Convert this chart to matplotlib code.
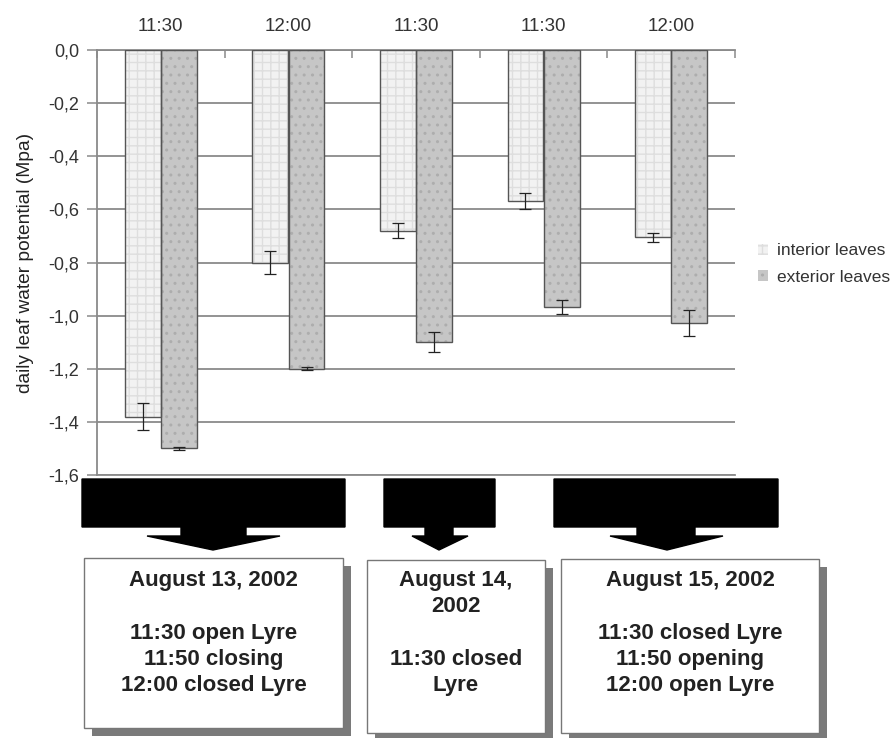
import matplotlib.pyplot as plt
from matplotlib.patches import Polygon, Rectangle
import numpy as np

plt.rcParams['font.family'] = ['Liberation Sans', 'DejaVu Sans']

# data
times = ["11:30", "12:00", "11:30", "11:30", "12:00"]
interior = [-1.38, -0.80, -0.68, -0.57, -0.705]
interior_err = [0.05, 0.045, 0.028, 0.03, 0.016]
exterior = [-1.50, -1.20, -1.10, -0.967, -1.028]
exterior_err = [0.006, 0.006, 0.037, 0.025, 0.048]
yticks = [0.0, -0.2, -0.4, -0.6, -0.8, -1.0, -1.2, -1.4, -1.6]
box_texts = ["August 13, 2002\n\n11:30 open Lyre\n11:50 closing\n12:00 closed Lyre",
             "August 14,\n2002\n\n11:30 closed\nLyre",
             "August 15, 2002\n\n11:30 closed Lyre\n11:50 opening\n12:00 open Lyre"]

W, H = 893, 738
fig = plt.figure(figsize=(W / 100, H / 100), dpi=100)
ax = fig.add_axes([97 / W, 1 - 475 / H, (735 - 97) / W, (475 - 50) / H])

x = np.arange(len(times))
bw = 0.28
grid_c = '#8a8a8a'

# fill + hatch, then outline
ax.bar(x - 0.142, interior, bw, color='#f2f2f2', edgecolor='#dedede', hatch='++', linewidth=0, zorder=2, label='interior leaves')
ax.bar(x + 0.142, exterior, bw, color='#c6c6c6', edgecolor='#adadad', hatch='..', linewidth=0, zorder=2, label='exterior leaves')
ax.bar(x - 0.142, interior, bw, fill=False, edgecolor='#555555', linewidth=1, zorder=3)
ax.bar(x + 0.142, exterior, bw, fill=False, edgecolor='#555555', linewidth=1, zorder=3)
ax.errorbar(x - 0.142, interior, yerr=interior_err, fmt='none', ecolor='#222222', elinewidth=0.9, capsize=4, capthick=0.9, zorder=4)
ax.errorbar(x + 0.142, exterior, yerr=exterior_err, fmt='none', ecolor='#222222', elinewidth=0.9, capsize=4, capthick=0.9, zorder=4)

ax.set_xlim(-0.5, len(times) - 0.5)
ax.set_ylim(-1.6, 0)
ax.set_yticks(yticks)
ax.set_yticklabels([('%.1f' % v).replace('.', ',') for v in yticks], fontsize=13, color='#333333')
ax.tick_params(axis='y', direction='out', length=7, width=1.1, color=grid_c, pad=6)
ax.yaxis.grid(True, color=grid_c, linewidth=1.3, zorder=0)
ax.set_axisbelow(True)

ax.xaxis.tick_top()
ax.set_xticks(np.arange(len(times) + 1) - 0.5)
ax.set_xticklabels([])
ax.set_xticks(x, minor=True)
ax.set_xticklabels(times, minor=True, fontsize=13.5, color='#333333')
ax.tick_params(axis='x', which='major', direction='in', length=6, width=1.1, color=grid_c)
ax.tick_params(axis='x', which='minor', length=0, pad=11)

for s in ['top', 'left', 'bottom']:
    ax.spines[s].set_color(grid_c)
    ax.spines[s].set_linewidth(1.3)
ax.spines['right'].set_visible(False)

ax.set_ylabel('daily leaf water potential (Mpa)', fontsize=13.8, color='#222222', labelpad=10)

ax.legend(loc='center left', bbox_to_anchor=(742 / W, 1 - 264 / H), bbox_transform=fig.transFigure,
          frameon=False, fontsize=12.5, handlelength=0.6, handleheight=0.6, handletextpad=0.5,
          labelspacing=0.65, labelcolor='#333333')

# arrows and boxes below the chart, in pixel units
ov = fig.add_axes([0, 0, 1, 1])
ov.set_xlim(0, W)
ov.set_ylim(H, 0)
ov.axis('off')

arrows = [(82, 345, 181, 246, 147, 280, 213),
          (384, 495, 425, 453, 412, 468, 439),
          (554, 778, 637, 695, 610, 723, 667)]
for x0, x1, s0, s1, h0, h1, tip in arrows:
    pts = [(x0, 479), (x1, 479), (x1, 527), (s1, 527), (s1, 536), (h1, 536), (tip, 550),
           (h0, 536), (s0, 536), (s0, 527), (x0, 527)]
    ov.add_patch(Polygon(pts, closed=True, facecolor='black', edgecolor='black'))

boxes = [(84, 343, 558, 728), (367, 545, 560, 733), (561, 819, 559, 733)]
for (bx0, bx1, by0, by1), txt in zip(boxes, box_texts):
    ov.add_patch(Rectangle((bx0 + 8, by0 + 8), bx1 - bx0, by1 - by0, facecolor='#7a7a7a', edgecolor='none'))
    ov.add_patch(Rectangle((bx0, by0), bx1 - bx0, by1 - by0, facecolor='white', edgecolor='#777777', linewidth=1))
    ov.text((bx0 + bx1) / 2, 633, txt, ha='center', va='center', fontsize=16, fontweight='bold',
            color='#222222', linespacing=1.33)

fig.savefig('out.png', dpi=100)
